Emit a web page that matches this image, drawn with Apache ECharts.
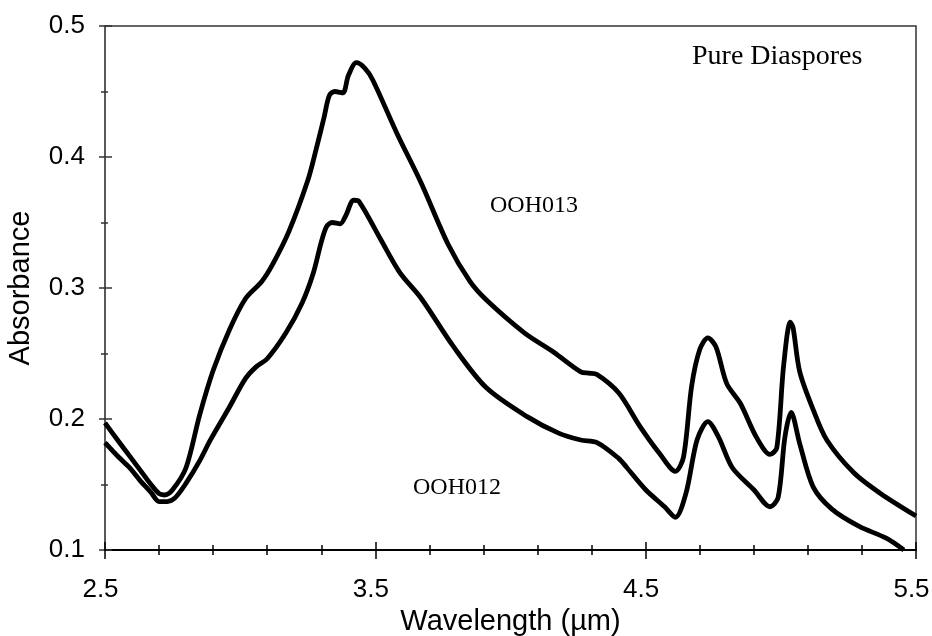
<!DOCTYPE html>
<html>
<head>
<meta charset="utf-8">
<script src="https://cdn.jsdelivr.net/npm/echarts@6/dist/echarts.min.js"></script>
<style>
  html, body { margin: 0; padding: 0; background: #fff; }
  #chart { width: 932px; height: 636px; }
</style>
</head>
<body>
<div id="chart"></div>
<script>
// wavelength (µm) / absorbance
const wl013 = [2.50, 2.55, 2.59, 2.63, 2.67, 2.70, 2.72, 2.75, 2.80, 2.85, 2.90, 2.96, 3.02, 3.08, 3.12, 3.18, 3.25, 3.28, 3.31, 3.33, 3.35, 3.38, 3.40, 3.43, 3.46, 3.49, 3.58, 3.67, 3.77, 3.85, 3.91, 4.05, 4.16, 4.26, 4.29, 4.32, 4.40, 4.48, 4.55, 4.61, 4.64, 4.67, 4.70, 4.73, 4.76, 4.80, 4.85, 4.91, 4.96, 4.985, 5.01, 5.035, 5.045, 5.07, 5.12, 5.17, 5.27, 5.37, 5.50];
const abs013 = [0.197, 0.183, 0.172, 0.161, 0.150, 0.143, 0.142, 0.146, 0.163, 0.203, 0.237, 0.268, 0.292, 0.305, 0.318, 0.343, 0.382, 0.405, 0.430, 0.447, 0.450, 0.449, 0.462, 0.472, 0.468, 0.459, 0.418, 0.380, 0.333, 0.305, 0.291, 0.266, 0.251, 0.236, 0.235, 0.234, 0.220, 0.194, 0.174, 0.160, 0.171, 0.225, 0.253, 0.262, 0.255, 0.227, 0.212, 0.186, 0.173, 0.178, 0.240, 0.274, 0.270, 0.236, 0.207, 0.184, 0.159, 0.143, 0.126];

const wl012 = [2.50, 2.55, 2.59, 2.63, 2.67, 2.70, 2.73, 2.76, 2.80, 2.85, 2.89, 2.96, 3.02, 3.06, 3.10, 3.17, 3.23, 3.27, 3.30, 3.32, 3.34, 3.37, 3.39, 3.42, 3.44, 3.52, 3.59, 3.67, 3.79, 3.91, 4.06, 4.18, 4.26, 4.32, 4.40, 4.43, 4.50, 4.57, 4.61, 4.65, 4.69, 4.73, 4.77, 4.82, 4.90, 4.96, 4.99, 5.015, 5.038, 5.07, 5.12, 5.19, 5.29, 5.39, 5.455];
const abs012 = [0.182, 0.171, 0.163, 0.153, 0.144, 0.137, 0.137, 0.140, 0.151, 0.168, 0.184, 0.209, 0.231, 0.240, 0.246, 0.266, 0.289, 0.311, 0.335, 0.347, 0.350, 0.349, 0.355, 0.367, 0.366, 0.337, 0.312, 0.292, 0.255, 0.224, 0.202, 0.189, 0.184, 0.182, 0.170, 0.163, 0.146, 0.133, 0.125, 0.144, 0.184, 0.198, 0.186, 0.163, 0.146, 0.133, 0.140, 0.186, 0.205, 0.181, 0.148, 0.131, 0.118, 0.109, 0.100];

const xTicks = [2.5, 3.5, 4.5, 5.5];
const yTicks = [0.1, 0.2, 0.3, 0.4, 0.5];

const chart = echarts.init(document.getElementById("chart"));

const pairs = (xs, ys) => xs.map((x, i) => [x, ys[i]]);
const sans = "Liberation Sans, Arial, sans-serif";
const serif = "Liberation Serif, Times New Roman, serif";

const lineSeries = (name, data) => ({
  name: name,
  type: "line",
  data: data,
  smooth: 0.3,
  symbol: "none",
  lineStyle: { color: "#000", width: 4.8 },
  z: 3,
});

const option = {
  animation: false,
  backgroundColor: "#fff",
  grid: {
    left: 105,
    right: 16,
    top: 26,
    bottom: 86,
    containLabel: false,
    outerBoundsMode: "none",
    show: true,
    borderColor: "#333",
    borderWidth: 1.5,
  },
  xAxis: [
    {
      type: "value",
      min: xTicks[0],
      max: xTicks[xTicks.length - 1],
      interval: 1,
      position: "bottom",
      name: "Wavelength (µm)",
      nameLocation: "middle",
      nameGap: 55,
      nameTextStyle: { fontFamily: sans, fontSize: 29, color: "#000" },
      axisLine: { lineStyle: { color: "#000", width: 2 } },
      axisTick: { show: true, inside: false, length: 9, lineStyle: { color: "#000", width: 1.5 } },
      minorTick: { show: true, splitNumber: 5, length: 5, lineStyle: { color: "#000", width: 1.5 } },
      splitLine: { show: false },
      axisLabel: {
        fontFamily: sans,
        fontSize: 26,
        color: "#000",
        margin: 27,
        padding: [0, 9, 0, 0],
        formatter: (v) => v.toFixed(1),
      },
    },
    {
      type: "value",
      min: xTicks[0],
      max: xTicks[xTicks.length - 1],
      interval: 1,
      position: "bottom",
      axisLine: { show: false },
      axisTick: { show: true, inside: true, length: 8, lineStyle: { color: "#000", width: 1.5 } },
      minorTick: { show: true, splitNumber: 5, length: 5, lineStyle: { color: "#000", width: 1.5 } },
      splitLine: { show: false },
      axisLabel: { show: false },
    },
  ],
  yAxis: [
    {
      type: "value",
      min: yTicks[0],
      max: yTicks[yTicks.length - 1],
      interval: 0.1,
      position: "left",
      name: "Absorbance",
      nameLocation: "middle",
      nameGap: 70,
      nameTextStyle: { fontFamily: sans, fontSize: 29, color: "#000" },
      axisLine: { show: true, lineStyle: { color: "#555", width: 1.5 } },
      axisTick: { show: true, inside: false, length: 6, lineStyle: { color: "#333", width: 1.5 } },
      minorTick: { show: true, splitNumber: 2, length: 4, lineStyle: { color: "#333", width: 1.5 } },
      splitLine: { show: false },
      axisLabel: {
        fontFamily: sans,
        fontSize: 26,
        color: "#000",
        margin: 20,
        formatter: (v) => v.toFixed(1),
      },
    },
    {
      type: "value",
      min: yTicks[0],
      max: yTicks[yTicks.length - 1],
      interval: 0.1,
      position: "left",
      axisLine: { show: false },
      axisTick: { show: true, inside: true, length: 7, lineStyle: { color: "#333", width: 1.5 } },
      minorTick: { show: true, splitNumber: 2, length: 3, lineStyle: { color: "#333", width: 1.5 } },
      splitLine: { show: false },
      axisLabel: { show: false },
    },
  ],
  series: [
    lineSeries("OOH013", pairs(wl013, abs013)),
    lineSeries("OOH012", pairs(wl012, abs012)),
  ],
  graphic: [
    {
      type: "text",
      left: 692,
      top: 43,
      style: { text: "Pure Diaspores", font: "28px " + serif, fill: "#000" },
    },
    {
      type: "text",
      left: 490,
      top: 194,
      style: { text: "OOH013", font: "24px " + serif, fill: "#000" },
    },
    {
      type: "text",
      left: 413,
      top: 476,
      style: { text: "OOH012", font: "24px " + serif, fill: "#000" },
    },
  ],
};

chart.setOption(option);
</script>
</body>
</html>
